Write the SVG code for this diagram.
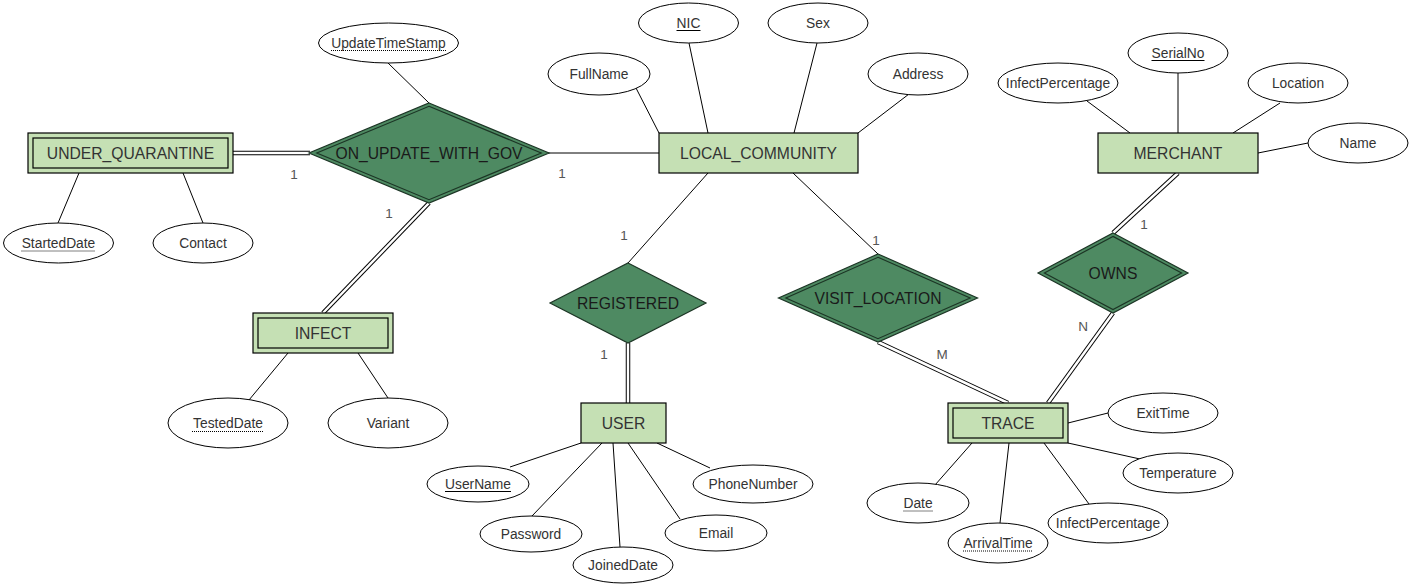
<svg xmlns="http://www.w3.org/2000/svg" width="1412" height="587" viewBox="0 0 1412 587">
<style>
text{font-family:"Liberation Sans",Arial,sans-serif;text-anchor:middle;dominant-baseline:central}
.attr ellipse{fill:#fff;stroke:#000;stroke-width:1}
.attr text{font-size:13.8px;fill:#333}
.ent rect{fill:#c5e0b4;stroke:#000;stroke-width:1.2}
.ent text{font-size:15.7px;fill:#333}
.rel polygon{fill:#4e8a62;stroke:#1c3525;stroke-width:1.2}
.rel text{font-size:15.7px;fill:#1a1a1a}
.ln{stroke:#000;stroke-width:1;fill:none}
.dbo{stroke:#000;stroke-width:4.5;fill:none}
.dbi{stroke:#fff;stroke-width:2.5;fill:none}
.card{font-size:13.5px;fill:#555}
.ul{stroke:#000;stroke-width:1}
.dul{stroke:#000;stroke-width:1;stroke-dasharray:1 1}
</style>
<rect width="1412" height="587" fill="#fff"/>
<g id="connectors">
<line class="ln" x1="388" y1="63" x2="429" y2="103"/>
<line class="ln" x1="636" y1="88" x2="659" y2="133"/>
<line class="ln" x1="689" y1="43" x2="708" y2="133"/>
<line class="ln" x1="817" y1="43" x2="794" y2="133"/>
<line class="ln" x1="909" y1="94" x2="858" y2="133"/>
<line class="ln" x1="548" y1="153" x2="659" y2="153"/>
<line class="ln" x1="708" y1="173" x2="628" y2="263"/>
<line class="ln" x1="793" y1="173" x2="878" y2="254"/>
<line class="ln" x1="79" y1="173" x2="58" y2="223"/>
<line class="ln" x1="183" y1="173" x2="203" y2="223"/>
<line class="ln" x1="288" y1="353" x2="249" y2="400"/>
<line class="ln" x1="358" y1="353" x2="388" y2="398"/>
<line class="ln" x1="581" y1="443" x2="510" y2="467"/>
<line class="ln" x1="602" y1="443" x2="532" y2="516"/>
<line class="ln" x1="613" y1="443" x2="620" y2="547"/>
<line class="ln" x1="628" y1="443" x2="680" y2="519"/>
<line class="ln" x1="657" y1="443" x2="710" y2="468"/>
<line class="ln" x1="1087" y1="101" x2="1130" y2="133"/>
<line class="ln" x1="1178" y1="73" x2="1178" y2="133"/>
<line class="ln" x1="1280" y1="103" x2="1233" y2="133"/>
<line class="ln" x1="1258" y1="153" x2="1308" y2="143"/>
<line class="ln" x1="1068" y1="423" x2="1108" y2="413"/>
<line class="ln" x1="1068" y1="443" x2="1140" y2="459"/>
<line class="ln" x1="1044" y1="443" x2="1089" y2="504"/>
<line class="ln" x1="1009" y1="443" x2="1000" y2="523"/>
<line class="ln" x1="972" y1="443" x2="935" y2="485"/>
<g>
<line class="dbo" x1="233" y1="153" x2="310" y2="153"/><line class="dbi" x1="233" y1="153" x2="310" y2="153"/>
<line class="dbo" x1="429" y1="203" x2="323" y2="313"/><line class="dbi" x1="429" y1="203" x2="323" y2="313"/>
<line class="dbo" x1="628" y1="343" x2="628" y2="403"/><line class="dbi" x1="628" y1="343" x2="628" y2="403"/>
<line class="dbo" x1="878" y1="342" x2="1008" y2="403"/><line class="dbi" x1="878" y1="342" x2="1008" y2="403"/>
<line class="dbo" x1="1178" y1="173" x2="1113" y2="233"/><line class="dbi" x1="1178" y1="173" x2="1113" y2="233"/>
<line class="dbo" x1="1113" y1="313" x2="1048" y2="403"/><line class="dbi" x1="1113" y1="313" x2="1048" y2="403"/>
</g>
<text class="card" x="294" y="174">1</text>
<text class="card" x="562" y="173">1</text>
<text class="card" x="389" y="213">1</text>
<text class="card" x="624" y="235">1</text>
<text class="card" x="604" y="354">1</text>
<text class="card" x="876" y="240">1</text>
<text class="card" x="942" y="354">M</text>
<text class="card" x="1144" y="224">1</text>
<text class="card" x="1083" y="326">N</text>
</g>

<g id="UNDER_QUARANTINE" class="ent">
<rect x="28" y="133" width="205" height="40"/><rect x="33" y="138" width="195" height="30"/>
<text x="130.5" y="153">UNDER_QUARANTINE</text>
</g>
<g id="LOCAL_COMMUNITY" class="ent">
<rect x="659" y="133" width="199" height="40"/>
<text x="758.5" y="153">LOCAL_COMMUNITY</text>
</g>
<g id="MERCHANT" class="ent">
<rect x="1098" y="133" width="160" height="40"/>
<text x="1178" y="153">MERCHANT</text>
</g>
<g id="INFECT" class="ent">
<rect x="253" y="313" width="140" height="40"/><rect x="258" y="318" width="130" height="30"/>
<text x="323" y="333">INFECT</text>
</g>
<g id="USER" class="ent">
<rect x="581" y="403" width="85" height="40"/>
<text x="623.5" y="423">USER</text>
</g>
<g id="TRACE" class="ent">
<rect x="948" y="403" width="120" height="40"/><rect x="953" y="408" width="110" height="30"/>
<text x="1008" y="423">TRACE</text>
</g>

<g id="ON_UPDATE_WITH_GOV" class="rel">
<polygon points="429,103 549,153 429,203 309,153"/>
<polygon points="429,106.3 541.2,153 429,199.7 316.8,153"/>
<text x="429" y="153">ON_UPDATE_WITH_GOV</text>
</g>
<g id="REGISTERED" class="rel">
<polygon points="628,263 706,303 628,343 550,303"/>
<text x="628" y="303">REGISTERED</text>
</g>
<g id="VISIT_LOCATION" class="rel">
<polygon points="878,254 977.5,298 878,342 778.5,298"/>
<polygon points="878,257.3 970.1,298 878,338.7 785.9,298"/>
<text x="878" y="298">VISIT_LOCATION</text>
</g>
<g id="OWNS" class="rel">
<polygon points="1113,233 1188,273 1113,313 1038,273"/>
<polygon points="1113,236.4 1181.6,273 1113,309.6 1044.4,273"/>
<text x="1113" y="273">OWNS</text>
</g>

<g id="UpdateTimeStamp" class="attr"><ellipse cx="388.5" cy="43" rx="70" ry="20"/><text x="388.5" y="43">UpdateTimeStamp</text><line class="dul" x1="331" y1="50.5" x2="446" y2="50.5"/></g>
<g id="FullName" class="attr"><ellipse cx="599" cy="74" rx="51" ry="21"/><text x="599" y="74">FullName</text></g>
<g id="NIC" class="attr"><ellipse cx="688.5" cy="23" rx="50" ry="20"/><text x="688.5" y="23">NIC</text><line class="ul" x1="676.5" y1="30.5" x2="700.5" y2="30.5"/></g>
<g id="Sex" class="attr"><ellipse cx="818" cy="23" rx="50" ry="20"/><text x="818" y="23">Sex</text></g>
<g id="Address" class="attr"><ellipse cx="918" cy="74" rx="50" ry="21"/><text x="918" y="74">Address</text></g>
<g id="StartedDate" class="attr"><ellipse cx="58.5" cy="243" rx="55" ry="20"/><text x="58.5" y="243">StartedDate</text><line class="dul" x1="21.5" y1="251" x2="95.5" y2="251"/></g>
<g id="Contact" class="attr"><ellipse cx="203" cy="243" rx="50" ry="20"/><text x="203" y="243">Contact</text></g>
<g id="TestedDate" class="attr"><ellipse cx="228" cy="423" rx="60" ry="25"/><text x="228" y="423">TestedDate</text><line class="dul" x1="192" y1="431.5" x2="264" y2="431.5"/></g>
<g id="Variant" class="attr"><ellipse cx="388" cy="423" rx="60" ry="25"/><text x="388" y="423">Variant</text></g>
<g id="UserName" class="attr"><ellipse cx="478" cy="484" rx="51" ry="18"/><text x="478" y="484">UserName</text><line class="ul" x1="445" y1="491.5" x2="511" y2="491.5"/></g>
<g id="Password" class="attr"><ellipse cx="531" cy="534" rx="51" ry="18"/><text x="531" y="534">Password</text></g>
<g id="JoinedDate" class="attr"><ellipse cx="623" cy="565" rx="50" ry="18"/><text x="623" y="565">JoinedDate</text></g>
<g id="Email" class="attr"><ellipse cx="716" cy="533" rx="51" ry="18"/><text x="716" y="533">Email</text></g>
<g id="PhoneNumber" class="attr"><ellipse cx="753" cy="484" rx="60" ry="19"/><text x="753" y="484">PhoneNumber</text></g>
<g id="InfectPercentage_M" class="attr"><ellipse cx="1058" cy="83" rx="60" ry="20"/><text x="1058" y="83">InfectPercentage</text></g>
<g id="SerialNo" class="attr"><ellipse cx="1178" cy="53" rx="50" ry="20"/><text x="1178" y="53">SerialNo</text><line class="ul" x1="1151.5" y1="60.5" x2="1204.5" y2="60.5"/></g>
<g id="Location" class="attr"><ellipse cx="1298" cy="83" rx="50" ry="20"/><text x="1298" y="83">Location</text></g>
<g id="Name" class="attr"><ellipse cx="1358" cy="143" rx="50" ry="20"/><text x="1358" y="143">Name</text></g>
<g id="ExitTime" class="attr"><ellipse cx="1163" cy="413" rx="55" ry="20"/><text x="1163" y="413">ExitTime</text></g>
<g id="Temperature" class="attr"><ellipse cx="1178" cy="473" rx="55" ry="20"/><text x="1178" y="473">Temperature</text></g>
<g id="InfectPercentage_T" class="attr"><ellipse cx="1108" cy="523" rx="60" ry="20"/><text x="1108" y="523">InfectPercentage</text></g>
<g id="ArrivalTime" class="attr"><ellipse cx="998" cy="543" rx="50" ry="20"/><text x="998" y="543">ArrivalTime</text><line class="dul" x1="963" y1="551" x2="1033" y2="551"/></g>
<g id="Date" class="attr"><ellipse cx="918" cy="503" rx="51" ry="20"/><text x="918" y="503">Date</text><line class="dul" x1="903.5" y1="511" x2="932.5" y2="511"/></g>
</svg>
